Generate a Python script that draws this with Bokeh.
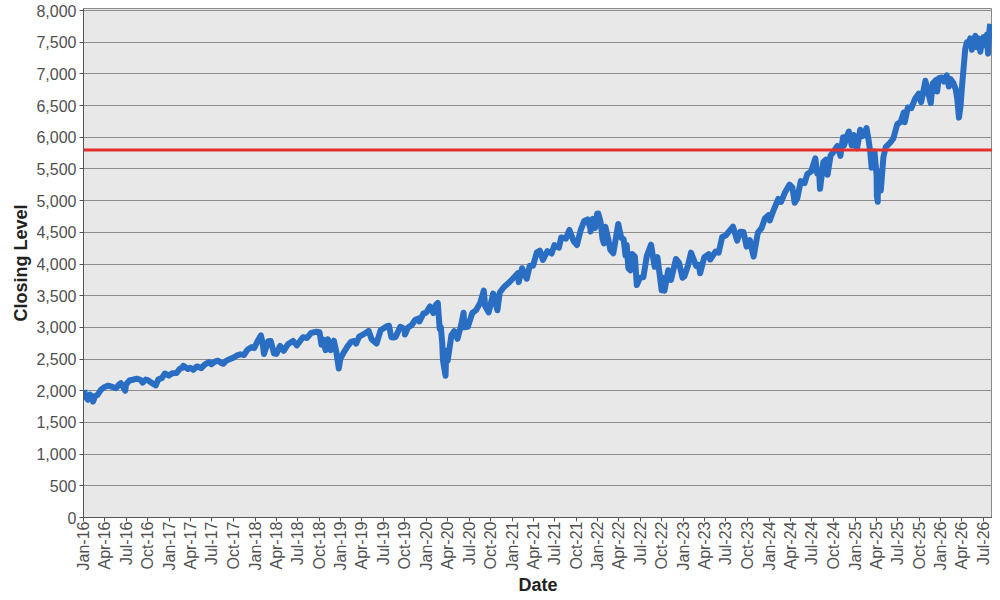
import math
import pandas as pd
from bokeh.plotting import figure
from bokeh.models import (Range1d, FixedTicker, MonthsTicker, DatetimeTickFormatter,
                          NumeralTickFormatter, Span)
from bokeh.embed import file_html
from bokeh.resources import INLINE

# ---------------- data ----------------
dates = [
    "2016-01-04", "2016-01-08", "2016-01-15", "2016-01-20", "2016-01-29", "2016-02-11", "2016-02-19",
    "2016-02-29", "2016-03-15", "2016-03-31", "2016-04-15", "2016-04-29", "2016-05-19", "2016-05-31",
    "2016-06-08", "2016-06-27", "2016-06-30", "2016-07-15", "2016-07-29", "2016-08-15", "2016-08-31",
    "2016-09-09", "2016-09-22", "2016-09-30", "2016-10-14", "2016-11-04", "2016-11-15", "2016-11-30",
    "2016-12-13", "2016-12-30",
    "2017-01-13", "2017-01-31", "2017-02-15", "2017-02-28", "2017-03-01", "2017-03-21", "2017-03-31",
    "2017-04-13", "2017-04-28", "2017-05-17", "2017-05-31", "2017-06-19", "2017-06-29", "2017-07-14",
    "2017-07-27", "2017-08-10", "2017-08-18", "2017-08-31", "2017-09-15", "2017-09-29", "2017-10-16",
    "2017-10-31", "2017-11-15", "2017-11-30", "2017-12-18", "2017-12-29",
    "2018-01-12", "2018-01-26", "2018-02-02", "2018-02-08", "2018-02-26", "2018-03-09", "2018-03-23",
    "2018-04-02", "2018-04-18", "2018-05-03", "2018-05-21", "2018-06-12", "2018-06-28", "2018-07-17",
    "2018-07-25", "2018-08-10", "2018-08-29", "2018-09-20", "2018-10-03", "2018-10-11", "2018-10-17",
    "2018-10-29", "2018-11-07", "2018-11-20", "2018-11-30", "2018-12-03", "2018-12-14", "2018-12-24",
    "2018-12-31",
    "2019-01-15", "2019-01-31", "2019-02-15", "2019-02-28", "2019-03-08", "2019-03-21", "2019-04-15",
    "2019-04-30", "2019-05-13", "2019-05-31", "2019-06-03", "2019-06-20", "2019-07-15", "2019-07-26",
    "2019-08-05", "2019-08-14", "2019-08-23", "2019-09-12", "2019-09-30", "2019-10-02", "2019-10-15",
    "2019-10-31", "2019-11-15", "2019-11-29", "2019-12-03", "2019-12-20", "2019-12-31",
    "2020-01-17", "2020-01-31", "2020-02-10", "2020-02-19", "2020-02-27", "2020-03-03", "2020-03-09",
    "2020-03-12", "2020-03-16", "2020-03-23", "2020-03-26", "2020-04-01", "2020-04-17", "2020-04-29",
    "2020-05-13", "2020-05-29", "2020-06-08", "2020-06-11", "2020-06-26", "2020-07-15", "2020-07-31",
    "2020-08-18", "2020-09-02", "2020-09-08", "2020-09-23", "2020-10-12", "2020-10-30", "2020-11-09",
    "2020-11-27", "2020-12-15", "2020-12-31",
    "2021-01-25", "2021-01-29", "2021-02-12", "2021-03-04", "2021-03-17", "2021-03-31", "2021-04-16",
    "2021-04-29", "2021-05-12", "2021-05-31", "2021-06-18", "2021-06-30", "2021-07-19", "2021-07-29",
    "2021-08-18", "2021-08-31", "2021-09-02", "2021-09-20", "2021-10-04", "2021-10-20", "2021-11-04",
    "2021-11-18", "2021-11-30", "2021-12-01", "2021-12-10", "2021-12-20", "2021-12-29",
    "2022-01-03", "2022-01-13", "2022-01-21", "2022-01-27", "2022-02-02", "2022-02-14", "2022-02-23",
    "2022-03-08", "2022-03-29", "2022-04-11", "2022-04-21", "2022-04-29", "2022-05-04", "2022-05-11",
    "2022-05-20", "2022-05-27", "2022-06-08", "2022-06-16", "2022-06-30", "2022-07-14", "2022-07-29",
    "2022-08-16", "2022-08-31", "2022-09-12", "2022-09-30", "2022-10-05", "2022-10-12", "2022-10-28",
    "2022-11-09", "2022-11-30", "2022-12-13", "2022-12-28",
    "2023-01-05", "2023-01-20", "2023-02-02", "2023-02-24", "2023-03-07", "2023-03-13", "2023-03-31",
    "2023-04-18", "2023-04-25", "2023-05-18", "2023-05-31", "2023-06-15", "2023-06-30", "2023-07-31",
    "2023-08-18", "2023-08-31", "2023-09-14", "2023-09-27", "2023-10-11", "2023-10-27", "2023-11-14",
    "2023-11-30", "2023-12-14", "2023-12-29",
    "2024-01-04", "2024-01-19", "2024-02-09", "2024-02-21", "2024-03-08", "2024-03-28", "2024-04-09",
    "2024-04-19", "2024-04-30", "2024-05-15", "2024-05-31", "2024-06-12", "2024-06-28", "2024-07-16",
    "2024-07-24", "2024-08-01", "2024-08-05", "2024-08-19", "2024-08-30", "2024-09-06", "2024-09-19",
    "2024-09-30", "2024-10-18", "2024-10-31", "2024-11-11", "2024-11-15", "2024-11-29", "2024-12-06",
    "2024-12-18", "2024-12-26", "2024-12-31",
    "2025-01-10", "2025-01-23", "2025-01-27", "2025-02-07", "2025-02-19", "2025-02-28", "2025-03-07",
    "2025-03-13", "2025-03-25", "2025-04-03", "2025-04-04", "2025-04-08", "2025-04-09", "2025-04-21",
    "2025-05-02", "2025-05-12", "2025-05-30", "2025-06-13", "2025-06-30", "2025-07-15", "2025-07-28",
    "2025-08-01", "2025-08-14", "2025-08-29", "2025-09-15", "2025-09-30", "2025-10-10", "2025-10-28",
    "2025-11-07", "2025-11-20", "2025-11-28", "2025-12-11", "2025-12-17", "2025-12-24",
    "2026-01-06", "2026-01-15", "2026-01-27", "2026-02-05", "2026-02-12", "2026-02-24", "2026-03-06",
    "2026-03-13", "2026-03-20", "2026-03-27", "2026-04-02", "2026-04-09", "2026-04-16", "2026-04-23",
    "2026-04-30", "2026-05-07", "2026-05-14", "2026-05-21", "2026-05-29", "2026-06-05", "2026-06-12",
    "2026-06-19", "2026-06-26", "2026-07-03", "2026-07-10", "2026-07-17", "2026-07-22", "2026-07-27",
    "2026-07-31",
]

closing = [
    2012, 1922, 1880, 1859, 1940, 1829, 1918,
    1932, 2015, 2060, 2080, 2065, 2040, 2097,
    2119, 2000, 2099, 2162, 2174, 2190, 2171,
    2128, 2177, 2168, 2133, 2085, 2180, 2199,
    2272, 2239,
    2275, 2279, 2350, 2364, 2396, 2344, 2363,
    2329, 2384, 2357, 2412, 2453, 2419, 2459,
    2475, 2438, 2425, 2472, 2500, 2519, 2557,
    2575, 2564, 2648, 2690, 2674,
    2786, 2873, 2762, 2581, 2780, 2786, 2588,
    2582, 2708, 2630, 2733, 2787, 2716, 2809,
    2846, 2833, 2914, 2931, 2925, 2728, 2809,
    2641, 2814, 2642, 2760, 2790, 2600, 2351,
    2507,
    2610, 2704, 2775, 2784, 2743, 2855, 2905,
    2946, 2812, 2752, 2744, 2954, 3014, 3026,
    2844, 2840, 2847, 3009, 2977, 2887, 2996,
    3038, 3120, 3141, 3093, 3221, 3231,
    3330, 3226, 3352, 3386, 2979, 3003, 2747,
    2481, 2386, 2237, 2630, 2471, 2875, 2940,
    2820, 3044, 3232, 3002, 3009, 3227, 3271,
    3390, 3580, 3332, 3237, 3534, 3270, 3550,
    3638, 3695, 3756,
    3855, 3714, 3934, 3768, 3974, 3973, 4185,
    4211, 4063, 4204, 4166, 4298, 4258, 4419,
    4400, 4523, 4537, 4358, 4300, 4536, 4680,
    4704, 4567, 4513, 4712, 4568, 4793,
    4797, 4659, 4398, 4326, 4589, 4401, 4225,
    4170, 4632, 4413, 4394, 4132, 4300, 3935,
    3901, 4158, 4116, 3667, 3785, 3790, 4130,
    4305, 3955, 4110, 3586, 3783, 3577, 3901,
    3749, 4080, 4019, 3783,
    3808, 3973, 4179, 3970, 3986, 3855, 4109,
    4155, 4071, 4198, 4180, 4426, 4450, 4589,
    4370, 4508, 4505, 4274, 4377, 4117, 4496,
    4568, 4720, 4770,
    4688, 4840, 5027, 4981, 5124, 5254, 5209,
    4967, 5036, 5308, 5278, 5421, 5460, 5667,
    5427, 5446, 5186, 5608, 5648, 5408, 5713,
    5762, 5864, 5705, 6001, 5870, 6032, 6090,
    5872, 6037, 5882,
    5827, 6119, 6012, 6026, 6144, 5955, 5770,
    5521, 5776, 5396, 5074, 4982, 5457, 5158,
    5686, 5844, 5912, 5977, 6205, 6244, 6390,
    6238, 6469, 6460, 6615, 6688, 6553, 6891,
    6729, 6538, 6849, 6901, 6721, 6932,
    6944, 6880, 6978, 6800, 6920, 6860, 6760,
    6600, 6310, 6500, 6800, 7100, 7400, 7500,
    7480, 7560, 7380, 7520, 7600, 7420, 7560,
    7350, 7500, 7580, 7450, 7620, 7320, 7650,
    7790,
]

threshold = 5800
y_ticks = [0, 500, 1000, 1500, 2000, 2500, 3000, 3500, 4000,
           4500, 5000, 5500, 6000, 6500, 7000, 7500, 8000]
x_start = "2016-01-01"
x_end = "2026-08-10"

# ---------------- figure ----------------
x = pd.to_datetime(dates)
FONT = "Liberation Sans"

p = figure(
    x_axis_type="datetime",
    frame_width=909, frame_height=509,
    x_range=Range1d(pd.Timestamp(x_start), pd.Timestamp(x_end)),
    y_range=Range1d(0, 8032),
    output_backend="svg", toolbar_location=None,
    background_fill_color="#e8e8e8", border_fill_color="white",
    min_border_left=83, min_border_top=8, min_border_right=0, min_border_bottom=2,
)

p.line(x, closing, line_width=6, line_color="#2a6ec4", line_join="round")
p.add_layout(Span(location=threshold, dimension="width", line_color="#e3302f", line_width=3))

p.outline_line_color = "#8a8a8a"
p.xgrid.visible = False
p.ygrid.grid_line_color = "#8c8c8c"
p.ygrid.grid_line_width = 1

# y axis
p.yaxis.ticker = FixedTicker(ticks=y_ticks)
p.yaxis.formatter = NumeralTickFormatter(format="0,0")
p.yaxis.minor_tick_line_color = None
p.yaxis.major_tick_in = 0
p.yaxis.major_tick_out = 4
p.yaxis.major_label_standoff = 3
p.yaxis.axis_label = "Closing Level"
p.yaxis.axis_label_standoff = 2

# x axis
p.xaxis.ticker = MonthsTicker(months=[0, 3, 6, 9])
p.xaxis.formatter = DatetimeTickFormatter(days="%b-%y", months="%b-%y", years="%b-%y", context=None)
p.xaxis.minor_tick_line_color = None
p.xaxis.major_tick_in = 0
p.xaxis.major_tick_out = 4
p.xaxis.major_label_orientation = math.pi / 2
p.xaxis.major_label_standoff = 0
p.xaxis.axis_label = "Date"
p.xaxis.axis_label_standoff = 2

for ax in (p.xaxis, p.yaxis):
    ax.axis_line_color = "#555555"
    ax.major_tick_line_color = "#555555"
    ax.major_label_text_font = FONT
    ax.major_label_text_font_size = "16px"
    ax.major_label_text_color = "#505050"
    ax.axis_label_text_font = FONT
    ax.axis_label_text_font_size = "18px"
    ax.axis_label_text_font_style = "bold"
    ax.axis_label_text_color = "#222222"

open("out.html", "w").write(file_html(p, INLINE))
